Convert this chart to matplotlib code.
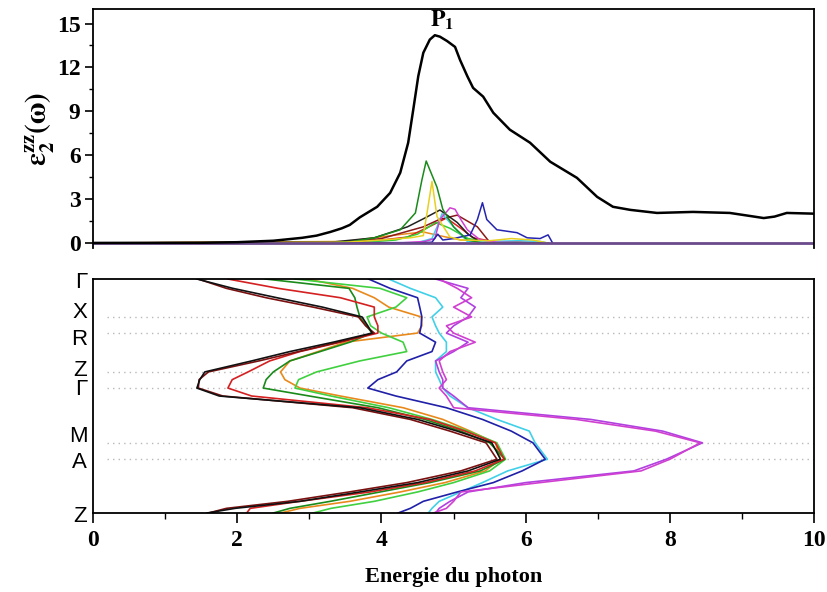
import numpy as np
import matplotlib
matplotlib.use("Agg")
import matplotlib.pyplot as plt
import matplotlib.transforms as mtransforms
from matplotlib.ticker import MultipleLocator

plt.rcParams["font.family"] = "Liberation Serif"
plt.rcParams["mathtext.fontset"] = "stix"

# ---- top panel: epsilon_2^zz(omega) ----
e_total = [0, 1.5, 2.0, 2.5, 2.9, 3.1, 3.29, 3.45, 3.56, 3.7, 3.8, 3.94, 4.12, 4.26, 4.37,
           4.44, 4.51, 4.58, 4.67, 4.74, 4.81, 4.91, 5.02, 5.09, 5.19, 5.27, 5.41, 5.55,
           5.78, 6.06, 6.34, 6.71, 6.99, 7.21, 7.45, 7.82, 8.32, 8.83, 9.1, 9.3, 9.45,
           9.62, 10]
eps_total = [0, 0.01, 0.05, 0.15, 0.35, 0.5, 0.75, 1.0, 1.23, 1.75, 2.05, 2.47, 3.42, 4.8,
             6.85, 9.1, 11.4, 13.0, 13.9, 14.2, 14.1, 13.8, 13.4, 12.5, 11.4, 10.6, 10.0,
             8.9, 7.74, 6.85, 5.55, 4.45, 3.15, 2.47, 2.26, 2.05, 2.12, 2.05, 1.85, 1.7,
             1.8, 2.05, 2.0]

# partial contributions (energy, value, colour)
partials = [
    ([0, 3.5, 3.9, 4.3, 4.58, 4.8, 5.1, 5.5, 6.3],
     [0, 0.1, 0.35, 0.6, 0.75, 0.5, 0.2, 0.1, 0], "#e8891c"),
    ([0, 3.6, 4.0, 4.36, 4.7, 4.9, 5.1, 5.27, 5.6, 6.3],
     [0, 0.05, 0.2, 0.4, 1.2, 1.7, 1.0, 0.35, 0.05, 0], "#e02020"),
    ([0, 3.8, 4.2, 4.5, 4.75, 4.95, 5.2, 5.5, 6.3],
     [0, 0.05, 0.2, 0.6, 1.4, 1.0, 0.3, 0.05, 0], "#33cc33"),
    ([0, 3.5, 4.0, 4.58, 4.8, 5.05, 5.33, 5.5, 6.3],
     [0, 0.05, 0.3, 1.1, 1.6, 1.9, 1.1, 0.05, 0], "#8b1a1a"),
    ([0, 3.3, 3.9, 4.36, 4.6, 4.81, 5.05, 5.2, 5.37, 6.3],
     [0, 0.05, 0.35, 1.1, 1.7, 2.25, 1.4, 0.6, 0.05, 0], "#222222"),
    ([0, 4.5, 4.7, 4.77, 4.84, 5.0, 5.19, 5.5, 5.9, 6.2, 6.3],
     [0, 0.02, 0.3, 1.1, 2.0, 1.1, 0.1, 0.1, 0.15, 0.1, 0], "#3fd0e8"),
    ([0, 4.3, 4.6, 4.74, 4.81, 4.88, 4.95, 5.02, 5.1, 5.19, 5.37, 5.6, 6.3],
     [0, 0.02, 0.1, 0.3, 1.6, 2.0, 2.4, 2.3, 1.6, 0.9, 0.2, 0.05, 0], "#d040d0"),
    ([0, 4.5, 4.7, 4.78, 4.85, 5.0, 5.23, 5.33, 5.4, 5.46, 5.6, 5.88, 6.02, 6.2, 6.31, 6.37],
     [0, 0, 0.05, 0.6, 0.2, 0.3, 0.55, 1.6, 2.75, 1.6, 0.9, 0.7, 0.35, 0.3, 0.55, 0.02], "#2424b0"),
    ([0, 3.3, 3.6, 3.9, 4.26, 4.47, 4.56, 4.62, 4.67, 4.77, 4.85, 5.0, 5.19, 5.4, 6.3],
     [0, 0, 0.1, 0.35, 0.9, 2.05, 4.3, 5.6, 5.0, 3.8, 2.3, 1.1, 0.2, 0, 0], "#1a8a1a"),
    ([0, 3.5, 4.0, 4.4, 4.58, 4.63, 4.7, 4.77, 4.95, 5.1, 5.5, 5.8, 6.1, 6.3],
     [0, 0.05, 0.2, 0.35, 0.5, 2.0, 4.2, 1.8, 0.4, 0.2, 0.15, 0.3, 0.2, 0], "#e8d020"),
]

# ---- bottom panel: transition energies along the k path ----
k_pos = [0, 0.04, 0.08, 0.12, 0.162, 0.20, 0.231, 0.27, 0.31, 0.35, 0.397, 0.43, 0.466,
         0.50, 0.55, 0.60, 0.65, 0.70, 0.77, 0.82, 0.87, 0.91, 0.95, 0.98, 1.0]
k_lines = [0.162, 0.231, 0.397, 0.466, 0.70, 0.77]
k_labels = ["Γ", "X", "R", "Z", "Γ", "M", "A", "Z"]
k_label_pos = [0.017, 0.141, 0.26, 0.389, 0.474, 0.675, 0.782, 1.013]

band_black = [1.44, 1.94, 2.55, 3.18, 3.73, 3.81, 3.87, 3.33, 2.73, 2.2, 1.55, 1.48, 1.44,
              1.75, 3.7, 4.5, 5.05, 5.53, 5.65, 5.2, 4.5, 3.7, 2.87, 1.97, 1.58]
band_brown = [1.46, 1.85, 2.4, 3.05, 3.68, 3.78, 3.9, 3.4, 2.85, 2.3, 1.6, 1.47, 1.46,
              1.8, 3.6, 4.4, 4.95, 5.45, 5.6, 5.1, 4.35, 3.55, 2.7, 1.85, 1.6]
band_red = [1.87, 2.57, 3.43, 3.9, 3.9, 3.95, 3.95, 3.43, 2.87, 2.45, 2.15, 1.93, 1.87,
            2.2, 3.8, 4.67, 5.16, 5.58, 5.7, 5.3, 4.6, 3.84, 2.87, 2.18, 2.13]
band_dkgreen = [2.39, 3.55, 3.63, 3.66, 3.7, 3.79, 3.87, 3.56, 3.15, 2.73, 2.5, 2.4, 2.36,
                3.0, 3.95, 4.6, 5.1, 5.5, 5.71, 5.37, 4.67, 3.98, 3.29, 2.73, 2.5]
band_orange = [2.97, 3.6, 3.9, 4.1, 4.55, 4.56, 4.5, 3.5, 3.12, 2.73, 2.6, 2.66, 2.87,
               3.43, 4.3, 4.85, 5.23, 5.58, 5.65, 5.44, 4.88, 4.26, 3.56, 2.87, 2.6]
band_green = [2.8, 3.98, 4.35, 4.2, 3.8, 3.85, 4.0, 4.3, 4.35, 3.7, 3.1, 2.85, 2.8,
              3.3, 4.1, 4.7, 5.2, 5.6, 5.72, 5.5, 5.0, 4.5, 3.9, 3.3, 3.05]
band_navy = [3.82, 4.12, 4.5, 4.53, 4.56, 4.55, 4.53, 4.75, 4.7, 4.35, 4.21, 3.95, 3.81,
             4.2, 4.9, 5.4, 5.8, 6.1, 6.27, 5.95, 5.55, 5.05, 4.58, 4.4, 4.23]
band_cyan = [4.1, 4.4, 4.75, 4.85, 4.7, 4.75, 4.8, 4.9, 4.9, 4.75, 4.75, 4.8, 4.85,
             4.95, 5.2, 5.6, 6.05, 6.13, 6.3, 5.75, 5.4, 5.1, 4.8, 4.7, 4.65]
band_magenta = [4.8, 5.05, 5.25, 5.0, 5.25, 4.9, 5.0, 5.3, 4.95, 4.8, 4.85, 4.9, 4.8,
                4.9, 5.0, 6.7, 7.8, 8.42, 8.0, 7.6, 6.2, 5.1, 5.0, 4.9, 4.72]
band_violet = [4.75, 5.2, 5.1, 5.3, 5.2, 5.0, 4.9, 5.2, 5.0, 4.75, 4.8, 4.85, 4.85,
               5.0, 5.2, 6.9, 7.9, 8.45, 7.95, 7.5, 6.0, 5.2, 4.95, 4.8, 4.75]

bands = [
    (band_orange, "#e8891c"), (band_green, "#40d040"), (band_dkgreen, "#1a8a1a"),
    (band_red, "#d42020"), (band_brown, "#7a1010"), (band_black, "#111111"),
    (band_cyan, "#40d0e8"), (band_navy, "#2020a8"),
    (band_violet, "#b040e0"), (band_magenta, "#d040d0"),
]

fig = plt.figure(figsize=(8.27, 5.92), dpi=100)
ax1 = fig.add_axes([0.1125, 0.581, 0.872, 0.404])
ax2 = fig.add_axes([0.1125, 0.1334, 0.872, 0.3953])

# top panel
for e, v, c in partials:
    ax1.plot(e, v, color=c, lw=1.1)
ax1.plot([0, 10], [0, 0], color="#6a4a8a", lw=2.0)
ax1.plot(e_total, eps_total, color="black", lw=1.8)
ax1.text(4.84, 14.45, r"$\mathbf{P_1}$", fontsize=17, ha="center", va="bottom")

ax1.set_xlim(0, 10)
ax1.set_ylim(-0.35, 16)
ax1.yaxis.set_major_locator(MultipleLocator(3))
ax1.yaxis.set_minor_locator(MultipleLocator(1.5))
ax1.set_xticks([])
ax1.spines["bottom"].set_visible(False)
for s in ["top", "left", "right"]:
    ax1.spines[s].set_linewidth(1.3)
ax1.tick_params(axis="y", which="major", direction="out", length=6, width=1.2,
                labelsize=17, pad=3)
ax1.tick_params(axis="y", which="minor", direction="out", length=3, width=1.0)
for lab in ax1.get_yticklabels():
    lab.set_fontweight("bold")
ax1.set_ylabel(r"$\mathbf{\varepsilon_2^{zz}(\omega)}$", fontsize=21, labelpad=0)

# bottom panel
for y in k_lines:
    ax2.axhline(y, xmin=0.02, color="#b8b8b8", lw=1.0, ls=(0, (1, 3)))
for vals, c in bands:
    ax2.plot(vals, k_pos, color=c, lw=1.2)

ax2.set_xlim(0, 10)
ax2.set_ylim(1, 0)
ax2.set_yticks([])
trans = mtransforms.blended_transform_factory(ax2.transAxes, ax2.transData)
for lab, y in zip(k_labels, k_label_pos):
    ax2.text(-0.008, y, lab, transform=trans, ha="right", va="center",
             family="Liberation Sans", fontsize=16, clip_on=False)
ax2.xaxis.set_major_locator(MultipleLocator(2))
ax2.xaxis.set_minor_locator(MultipleLocator(1))
ax2.tick_params(axis="x", which="major", direction="out", length=7, width=1.2,
                labelsize=17, pad=5)
ax2.tick_params(axis="x", which="minor", direction="out", length=4, width=1.0)
for lab in ax2.get_xticklabels():
    lab.set_fontweight("bold")
for s in ax2.spines.values():
    s.set_linewidth(1.3)
ax2.set_xlabel("Energie du photon", fontsize=16, fontweight="bold", labelpad=12)

fig.savefig("out.png", dpi=100)
